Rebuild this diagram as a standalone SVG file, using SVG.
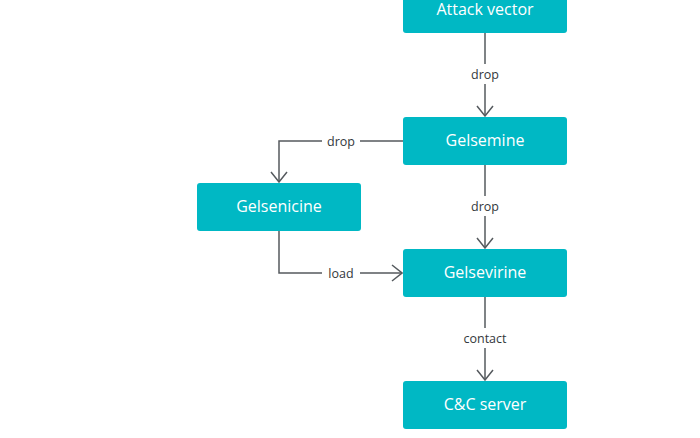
<svg xmlns="http://www.w3.org/2000/svg" width="700" height="438" viewBox="0 0 700 438">
  <style>
    .node rect { fill: #00B8C4; }
    .node text { fill: #ffffff; font-family: "Open Sans", "Noto Sans", sans-serif; font-size: 16px; font-weight: 500; text-anchor: middle; dominant-baseline: central; }
    .edge { fill: none; stroke: #555a5e; stroke-width: 1.5; }
    .lblbg { fill: #ffffff; }
    .lbl { fill: #33383c; font-family: "Open Sans", "Noto Sans", sans-serif; font-size: 12.5px; font-weight: 500; text-anchor: middle; dominant-baseline: central; }
  </style>
  <defs>
    <marker id="arrow" viewBox="0 0 12 18" refX="11" refY="9" markerWidth="12" markerHeight="18" markerUnits="userSpaceOnUse" orient="auto">
      <path d="M1,1 L11,9 L1,17" fill="none" stroke="#555a5e" stroke-width="1.5"/>
    </marker>
  </defs>
  <rect width="700" height="438" fill="#ffffff"/>
  <g id="connectors">
    <path class="edge" d="M485,33 L485,116" marker-end="url(#arrow)"/>
    <path class="edge" d="M403,141 L279,141 L279,182" marker-end="url(#arrow)"/>
    <path class="edge" d="M485,165 L485,248" marker-end="url(#arrow)"/>
    <path class="edge" d="M279,231 L279,273 L402,273" marker-end="url(#arrow)"/>
    <path class="edge" d="M485,297 L485,380" marker-end="url(#arrow)"/>
    <rect class="lblbg" x="467" y="64" width="36" height="20"/>
    <text class="lbl" x="485" y="74">drop</text>
    <rect class="lblbg" x="322" y="131" width="38" height="20"/>
    <text class="lbl" x="341" y="141">drop</text>
    <rect class="lblbg" x="467" y="196" width="36" height="20"/>
    <text class="lbl" x="485" y="206">drop</text>
    <rect class="lblbg" x="322" y="263" width="38" height="20"/>
    <text class="lbl" x="341" y="273">load</text>
    <rect class="lblbg" x="457" y="328" width="56" height="20"/>
    <text class="lbl" x="485" y="338">contact</text>
  </g>
  <g id="attack-vector" class="node">
    <rect x="403" y="-15" width="164" height="48" rx="3"/>
    <text x="485" y="9">Attack vector</text>
  </g>
  <g id="gelsemine" class="node">
    <rect x="403" y="117" width="164" height="48" rx="3"/>
    <text x="485" y="140">Gelsemine</text>
  </g>
  <g id="gelsenicine" class="node">
    <rect x="197" y="183" width="164" height="48" rx="3"/>
    <text x="279" y="206">Gelsenicine</text>
  </g>
  <g id="gelsevirine" class="node">
    <rect x="403" y="249" width="164" height="48" rx="3"/>
    <text x="485" y="272">Gelsevirine</text>
  </g>
  <g id="cc-server" class="node">
    <rect x="403" y="381" width="164" height="48" rx="3"/>
    <text x="485" y="404">C&amp;C server</text>
  </g>
</svg>
